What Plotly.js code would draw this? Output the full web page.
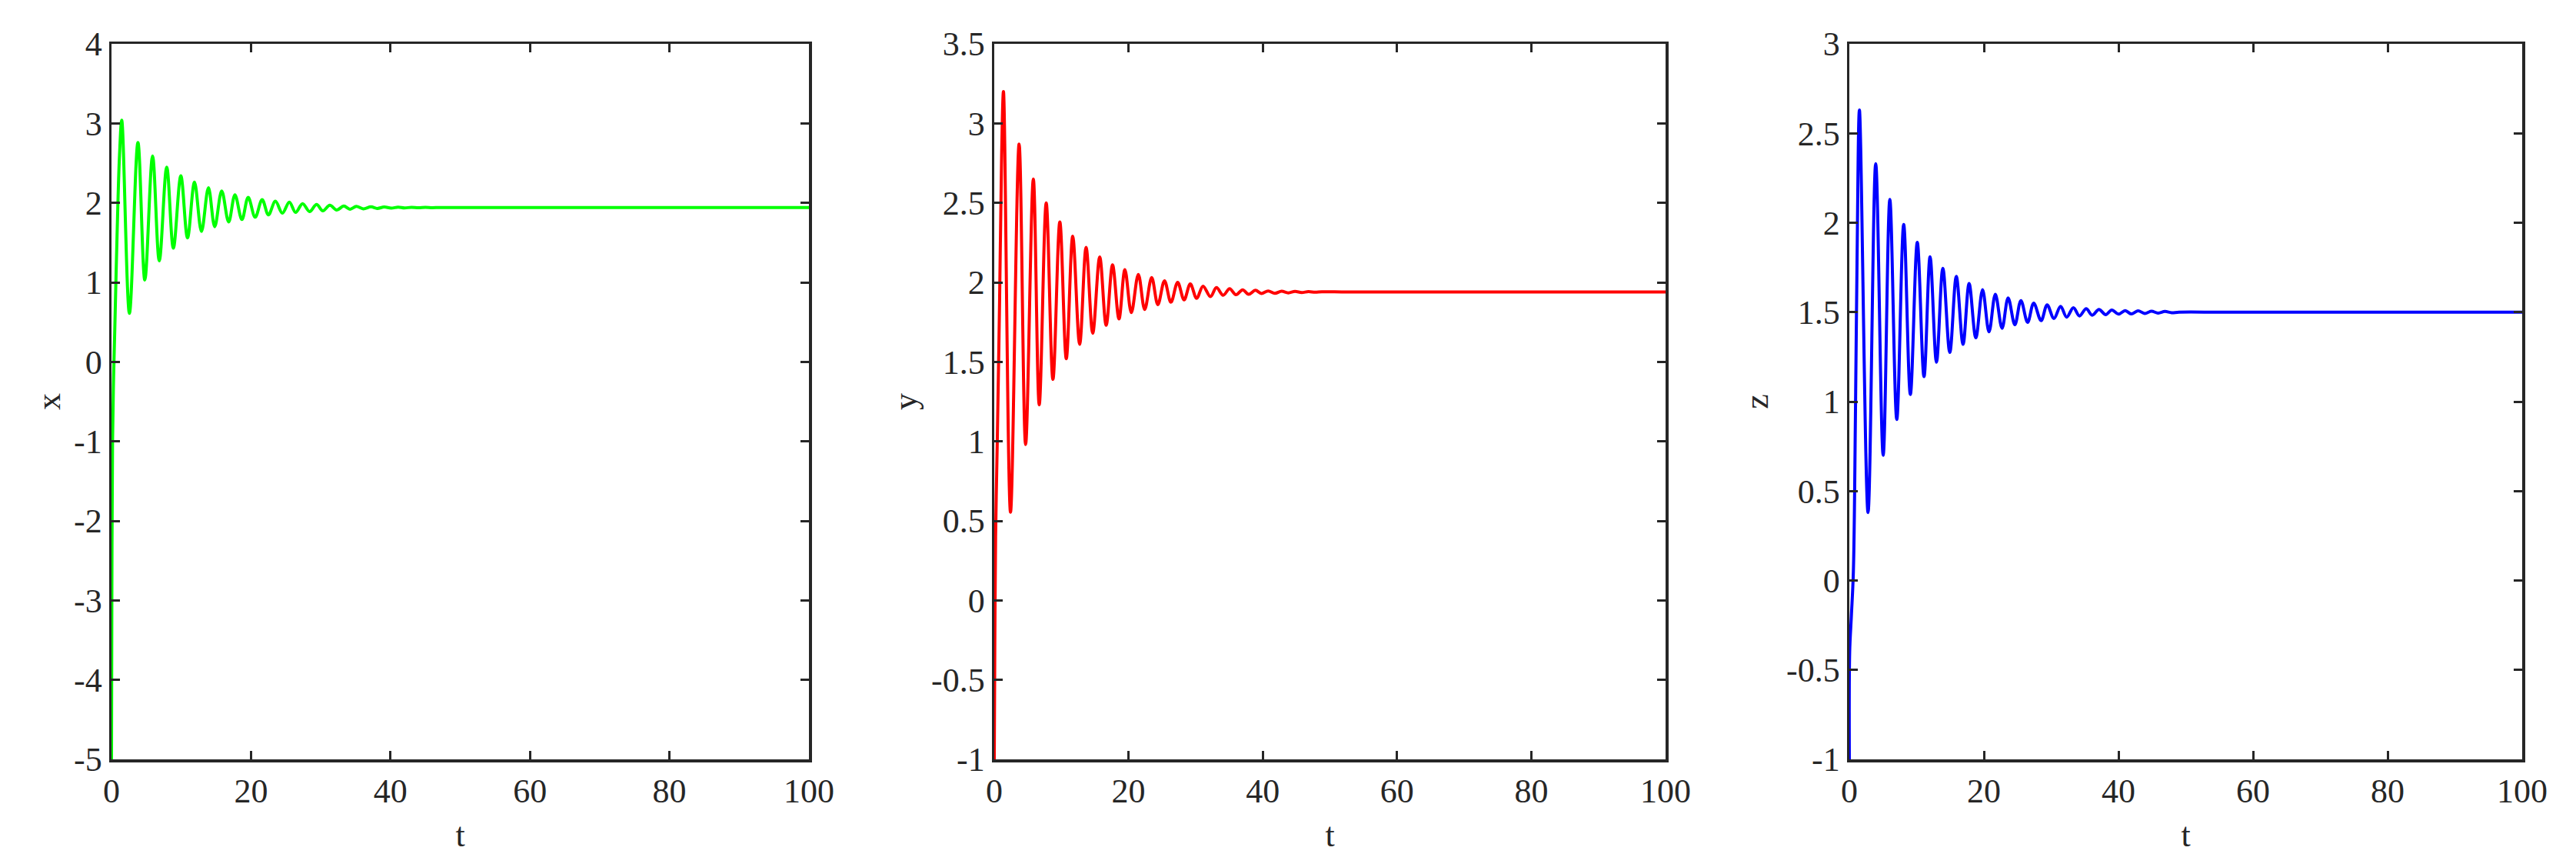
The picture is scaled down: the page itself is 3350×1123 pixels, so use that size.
<!DOCTYPE html>
<html>
<head>
<meta charset="utf-8">
<script src="https://cdn.plot.ly/plotly-3.0.1.min.js"></script>
<style>
  html, body { margin: 0; padding: 0; background: #ffffff; }
  #chart { width: 3350px; height: 1123px; }
</style>
</head>
<body>
<div id="chart"></div>
<script>
// ---- Data (peaks / troughs of each response) ----
const tX = [0, 0.05, 0.15, 0.3, 0.47, 0.8, 1.15, 1.47,
  2.57, 3.79, 4.78, 5.89, 6.85, 7.92, 8.87, 9.94, 10.9, 11.9,
  12.9, 13.9, 14.8, 15.8, 16.8, 17.7, 18.7, 19.6, 20.6, 21.6,
  22.5, 23.5, 24.5, 25.5, 26.4, 27.4, 28.4, 29.4, 30.3, 31.3,
  32.3, 33.3, 34.2, 35.1, 36.1, 37.2, 38.1, 39.1, 40.1, 41.1,
  42.0, 43.0, 44.0, 45.0, 46.0, 47.0, 48.0, 52, 58, 100];
const xVals = [-5, -3, -1, -0.2, 0.4, 1.6, 2.6, 3.04,
  0.61, 2.76, 1.03, 2.59, 1.27, 2.45, 1.43, 2.34, 1.56, 2.26,
  1.64, 2.19, 1.70, 2.15, 1.76, 2.10, 1.79, 2.07, 1.82, 2.04,
  1.85, 2.02, 1.87, 2.01, 1.88, 1.99, 1.89, 1.98, 1.90, 1.97,
  1.91, 1.96, 1.92, 1.955, 1.925, 1.95, 1.93, 1.948, 1.934, 1.946,
  1.936, 1.944, 1.938, 1.943, 1.939, 1.942, 1.940, 1.941, 1.941, 1.941];

const tY = [0, 0.08, 0.2, 0.45, 0.8, 1.1, 1.37,
  2.42, 3.7, 4.67, 5.82, 6.70, 7.74, 8.74, 9.77, 10.73, 11.69,
  12.72, 13.68, 14.67, 15.71, 16.67, 17.62, 18.58, 19.46, 20.42, 21.46,
  22.41, 23.45, 24.37, 25.36, 26.32, 27.32, 28.28, 29.2, 30.15, 31.1,
  32.2, 33.1, 34.1, 35.06, 36.0, 37.0, 37.9, 38.9, 39.8, 40.8,
  41.8, 42.8, 43.8, 44.8, 45.8, 46.8, 47.8, 48.8, 52, 56, 100];
const yVals = [-1, -0.3, 0.4, 1.0, 1.9, 2.8, 3.2,
  0.555, 2.87, 0.98, 2.65, 1.23, 2.50, 1.39, 2.38, 1.52, 2.29,
  1.61, 2.22, 1.68, 2.16, 1.73, 2.11, 1.77, 2.08, 1.81, 2.05,
  1.83, 2.03, 1.86, 2.01, 1.875, 2.0, 1.89, 1.99, 1.90, 1.976,
  1.91, 1.967, 1.919, 1.96, 1.922, 1.953, 1.925, 1.95, 1.93, 1.946,
  1.931, 1.944, 1.934, 1.943, 1.936, 1.942, 1.938, 1.941, 1.94, 1.94, 1.94];

const tZ = [0, 0.05, 0.3, 0.6, 0.9, 1.15, 1.5,
  2.78, 3.92, 5.03, 6.02, 7.05, 8.08, 9.07, 10.1, 11.1, 12.0,
  12.95, 13.9, 14.93, 15.9, 16.9, 17.8, 18.8, 19.8, 20.76, 21.7,
  22.7, 23.6, 24.6, 25.5, 26.5, 27.4, 28.5, 29.4, 30.4, 31.4,
  32.3, 33.3, 34.2, 35.2, 36.1, 37.1, 38.1, 39.0, 40.0, 41.0,
  41.9, 42.9, 43.9, 44.9, 45.9, 46.9, 47.9, 49, 55, 62, 100];
const zVals = [-1, -0.4, -0.2, 0.05, 0.9, 1.8, 2.63,
  0.38, 2.33, 0.70, 2.13, 0.90, 1.99, 1.04, 1.89, 1.14, 1.81,
  1.22, 1.745, 1.275, 1.70, 1.32, 1.66, 1.357, 1.626, 1.39, 1.60,
  1.41, 1.58, 1.43, 1.565, 1.443, 1.551, 1.453, 1.541, 1.465, 1.532,
  1.472, 1.525, 1.479, 1.519, 1.483, 1.515, 1.486, 1.512, 1.489, 1.509,
  1.49, 1.508, 1.493, 1.505, 1.495, 1.504, 1.497, 1.5, 1.5, 1.5, 1.5];

// ---- Tick values / labels ----
const tTicks = [0, 20, 40, 60, 80, 100];
const tTickLabels = ['0', '20', '40', '60', '80', '100'];
const xTicks = [-5, -4, -3, -2, -1, 0, 1, 2, 3, 4];
const xTickLabels = ['-5', '-4', '-3', '-2', '-1', '0', '1', '2', '3', '4'];
const yTicks = [-1, -0.5, 0, 0.5, 1, 1.5, 2, 2.5, 3, 3.5];
const yTickLabels = ['-1', '-0.5', '0', '0.5', '1', '1.5', '2', '2.5', '3', '3.5'];
const zTicks = [-1, -0.5, 0, 0.5, 1, 1.5, 2, 2.5, 3];
const zTickLabels = ['-1', '-0.5', '0', '0.5', '1', '1.5', '2', '2.5', '3'];

// ---- Styling ----
const FONT = 'Liberation Serif, Times New Roman, serif';
const INK = '#262626';
const tickFont = { family: FONT, size: 44, color: INK };

function axisBase(extra) {
  return Object.assign({
    showline: true, linecolor: INK, linewidth: 3.5, mirror: 'allticks',
    ticks: 'inside', ticklen: 11, tickwidth: 3, tickcolor: INK,
    showgrid: false, zeroline: false, tickfont: tickFont,
    fixedrange: true, automargin: false
  }, extra);
}

const traces = [
  { x: tX, y: xVals, xaxis: 'x', yaxis: 'y', type: 'scatter', mode: 'lines',
    line: { color: '#00FF00', width: 4, shape: 'spline', smoothing: 1 }, hoverinfo: 'skip' },
  { x: tY, y: yVals, xaxis: 'x2', yaxis: 'y2', type: 'scatter', mode: 'lines',
    line: { color: '#FF0000', width: 4, shape: 'spline', smoothing: 1 }, hoverinfo: 'skip' },
  { x: tZ, y: zVals, xaxis: 'x3', yaxis: 'y3', type: 'scatter', mode: 'lines',
    line: { color: '#0000FF', width: 4, shape: 'spline', smoothing: 1 }, hoverinfo: 'skip' }
];

const W = 3350, H = 1123;
const yDom = [1 - 987 / H, 1 - 57 / H];
const xTitle = (txt) => ({ text: txt, font: { family: FONT, size: 44, color: INK }, standoff: 18 });
const yTitle = (txt, so) => ({ text: txt, font: { family: FONT, size: 44, color: INK }, standoff: so });

const layout = {
  width: W, height: H,
  margin: { l: 0, r: 0, t: 0, b: 0 },
  paper_bgcolor: '#ffffff', plot_bgcolor: '#ffffff',
  showlegend: false,
  xaxis: axisBase({ domain: [145 / W, 1052 / W], range: [0, 100], tickvals: tTicks, ticktext: tTickLabels, anchor: 'y', title: xTitle('t') }),
  yaxis: axisBase({ domain: yDom, range: [-5, 4], tickvals: xTicks, ticktext: xTickLabels, anchor: 'x', title: yTitle('x', 4) }),
  xaxis2: axisBase({ domain: [1293 / W, 2166 / W], range: [0, 100], tickvals: tTicks, ticktext: tTickLabels, anchor: 'y2', title: xTitle('t') }),
  yaxis2: axisBase({ domain: yDom, range: [-1, 3.5], tickvals: yTicks, ticktext: yTickLabels, anchor: 'x2', title: yTitle('y', 5) }),
  xaxis3: axisBase({ domain: [2405 / W, 3280 / W], range: [0, 100], tickvals: tTicks, ticktext: tTickLabels, anchor: 'y3', title: xTitle('t') }),
  yaxis3: axisBase({ domain: yDom, range: [-1, 3], tickvals: zTicks, ticktext: zTickLabels, anchor: 'x3', title: yTitle('z', 10) })
};

Plotly.newPlot('chart', traces, layout, { displayModeBar: false, staticPlot: true });
</script>
</body>
</html>
